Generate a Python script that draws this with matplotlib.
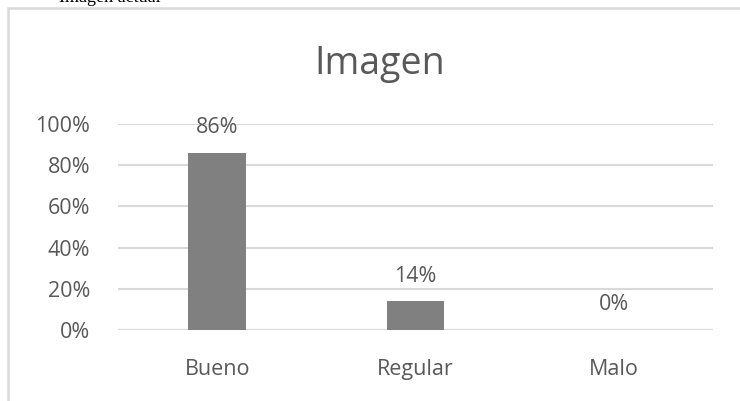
import matplotlib
matplotlib.use("Agg")
import matplotlib.pyplot as plt
from matplotlib.patches import Rectangle

plt.rcParams['font.family'] = ['Open Sans', 'DejaVu Sans']

# datos
categorias = ['Bueno', 'Regular', 'Malo']
valores = [0.86, 0.14, 0.0]
ticks = [0, 0.2, 0.4, 0.6, 0.8, 1.0]
tick_labels = ['0%', '20%', '40%', '60%', '80%', '100%']

texto = '#595959'
gris_barra = '#808080'
gris_linea = '#d9d9d9'

fig = plt.figure(figsize=(7.4, 4.01), dpi=100)
ax = fig.add_axes([118/740, 1-330/401, (713-118)/740, (330-124)/401])

# marco del grafico
fig.patches.append(Rectangle((8/740, -0.1), 1.0, (1-8/401)+0.1, transform=fig.transFigure,
                             fill=False, edgecolor=gris_linea, linewidth=1.8))

# texto de la pagina, casi todo fuera del borde superior
fig.text(110/740, 1-1.5/401, 'Imagen actual', family='Liberation Serif', fontsize=13,
         color='black', ha='center', va='baseline')

x = range(len(categorias))
bars = ax.bar(x, valores, width=0.29, color=gris_barra, zorder=3)
for b, v in zip(bars, valores):
    ax.annotate(f'{v*100:.0f}%', (b.get_x() + b.get_width()/2, v), xytext=(0, 18),
                textcoords='offset points', ha='center', va='center',
                fontsize=15.5, color=texto)

ax.set_xlim(-0.5, 2.5)
ax.set_ylim(0, 1)
ax.set_yticks(ticks)
ax.set_yticklabels(tick_labels)
ax.set_xticks(list(x))
ax.set_xticklabels(categorias)
ax.tick_params(length=0, labelsize=15.5, labelcolor=texto)
ax.tick_params(axis='y', pad=20)
ax.tick_params(axis='x', pad=21)
ax.yaxis.grid(True, color=gris_linea, linewidth=1.5, zorder=0)
for s in ax.spines.values():
    s.set_visible(False)
ax.axhline(0, color=gris_linea, linewidth=1.5, zorder=2)

fig.text(380/740, 1-64/401, 'Imagen', fontsize=27, color=texto, ha='center', va='center')

fig.savefig('out.png', dpi=100, facecolor='white')
